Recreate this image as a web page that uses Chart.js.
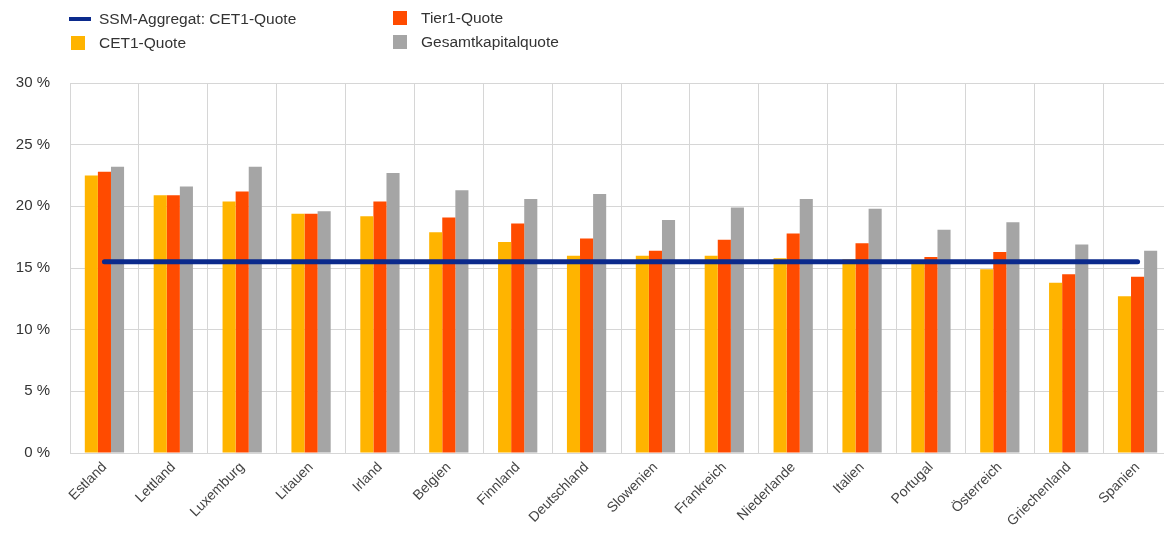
<!DOCTYPE html>
<html>
<head>
<meta charset="utf-8">
<script src="https://cdn.jsdelivr.net/npm/chart.js@4"></script>
<style>
  body { margin: 0; overflow: hidden; background: #fff; font-family: "Liberation Sans", Arial, sans-serif; }
  #wrap { position: absolute; left: 0; top: 0; width: 1180px; height: 535px; }
  .leg { position: absolute; font-size: 15.5px; color: #333; line-height: 16px; white-space: nowrap; }
  .sw { position: absolute; }
</style>
</head>
<body>
<div id="wrap"><canvas id="myChart"></canvas></div>
<div id="legend"></div>
<script>
// Laender
const laender = ['Estland', 'Lettland', 'Luxemburg', 'Litauen', 'Irland', 'Belgien', 'Finnland', 'Deutschland',
  'Slowenien', 'Frankreich', 'Niederlande', 'Italien', 'Portugal', 'Österreich', 'Griechenland', 'Spanien'];

// Quoten in %
const cet1 = [22.5, 20.9, 20.4, 19.4, 19.2, 17.9, 17.1, 16.0, 16.0, 16.0, 15.8, 15.7, 15.4, 14.9, 13.8, 12.7];
const tier1 = [22.8, 20.9, 21.2, 19.4, 20.4, 19.1, 18.6, 17.4, 16.4, 17.3, 17.8, 17.0, 15.9, 16.3, 14.5, 14.3];
const gesamt = [23.2, 21.6, 23.2, 19.6, 22.7, 21.3, 20.6, 21.0, 18.9, 19.9, 20.6, 19.8, 18.1, 18.7, 16.9, 16.4];
const ssmAggregat = 15.5;

const yTicks = [0, 5, 10, 15, 20, 25, 30];

const colores = {
  linea: '#0b2a8c',
  cet1: '#ffb400',
  tier1: '#ff4b00',
  gesamt: '#a5a5a5'
};

const ctx = document.getElementById('myChart');

new Chart(ctx, {
  type: 'bar',
  data: {
    labels: laender,
    datasets: [
      {
        type: 'line',
        label: 'SSM-Aggregat: CET1-Quote',
        data: laender.map(() => ssmAggregat),
        borderColor: colores.linea,
        backgroundColor: colores.linea,
        borderWidth: 5,
        pointRadius: 0,
        borderCapStyle: 'round'
      },
      { label: 'CET1-Quote', data: cet1, backgroundColor: colores.cet1 },
      { label: 'Tier1-Quote', data: tier1, backgroundColor: colores.tier1 },
      { label: 'Gesamtkapitalquote', data: gesamt, backgroundColor: colores.gesamt }
    ]
  },
  options: {
    responsive: true,
    maintainAspectRatio: false,
    animation: false,
    categoryPercentage: 0.57,
    barPercentage: 1,
    layout: { padding: { top: 83, left: 0, right: 8, bottom: 0 } },
    plugins: {
      legend: { display: false },
      tooltip: { enabled: false }
    },
    scales: {
      x: {
        grid: { color: '#d6d6d6', offset: true, drawTicks: false },
        border: { color: '#d6d6d6' },
        ticks: {
          color: '#444',
          font: { family: 'Liberation Sans', size: 14 },
          minRotation: 45,
          maxRotation: 45,
          padding: 6
        },
        afterFit: (scale) => { scale.height = 82; }
      },
      y: {
        min: 0,
        max: 30,
        afterBuildTicks: (scale) => { scale.ticks = yTicks.map(v => ({ value: v })); },
        grid: { color: '#d6d6d6', drawTicks: false },
        border: { display: false },
        ticks: {
          color: '#333',
          font: { family: 'Liberation Sans', size: 15 },
          padding: 20,
          callback: (v) => v + ' %'
        },
        afterFit: (scale) => { scale.width = 70; }
      }
    }
  }
});

// Legende in zwei Spalten
const legende = [
  { text: 'SSM-Aggregat: CET1-Quote', color: colores.linea, x: 69, y: 19, linea: true },
  { text: 'CET1-Quote', color: colores.cet1, x: 71, y: 43 },
  { text: 'Tier1-Quote', color: colores.tier1, x: 393, y: 18 },
  { text: 'Gesamtkapitalquote', color: colores.gesamt, x: 393, y: 42 }
];
const cont = document.getElementById('legend');
legende.forEach(item => {
  const sw = document.createElement('div');
  sw.className = 'sw';
  sw.style.background = item.color;
  if (item.linea) {
    sw.style.left = item.x + 'px'; sw.style.top = (item.y - 2) + 'px';
    sw.style.width = '22px'; sw.style.height = '4px';
  } else {
    sw.style.left = item.x + 'px'; sw.style.top = (item.y - 7) + 'px';
    sw.style.width = '14px'; sw.style.height = '14px';
  }
  cont.appendChild(sw);
  const t = document.createElement('div');
  t.className = 'leg';
  t.textContent = item.text;
  t.style.left = (item.linea ? 99 : item.x + 28) + 'px';
  t.style.top = (item.y - 8) + 'px';
  cont.appendChild(t);
});
</script>
</body>
</html>
